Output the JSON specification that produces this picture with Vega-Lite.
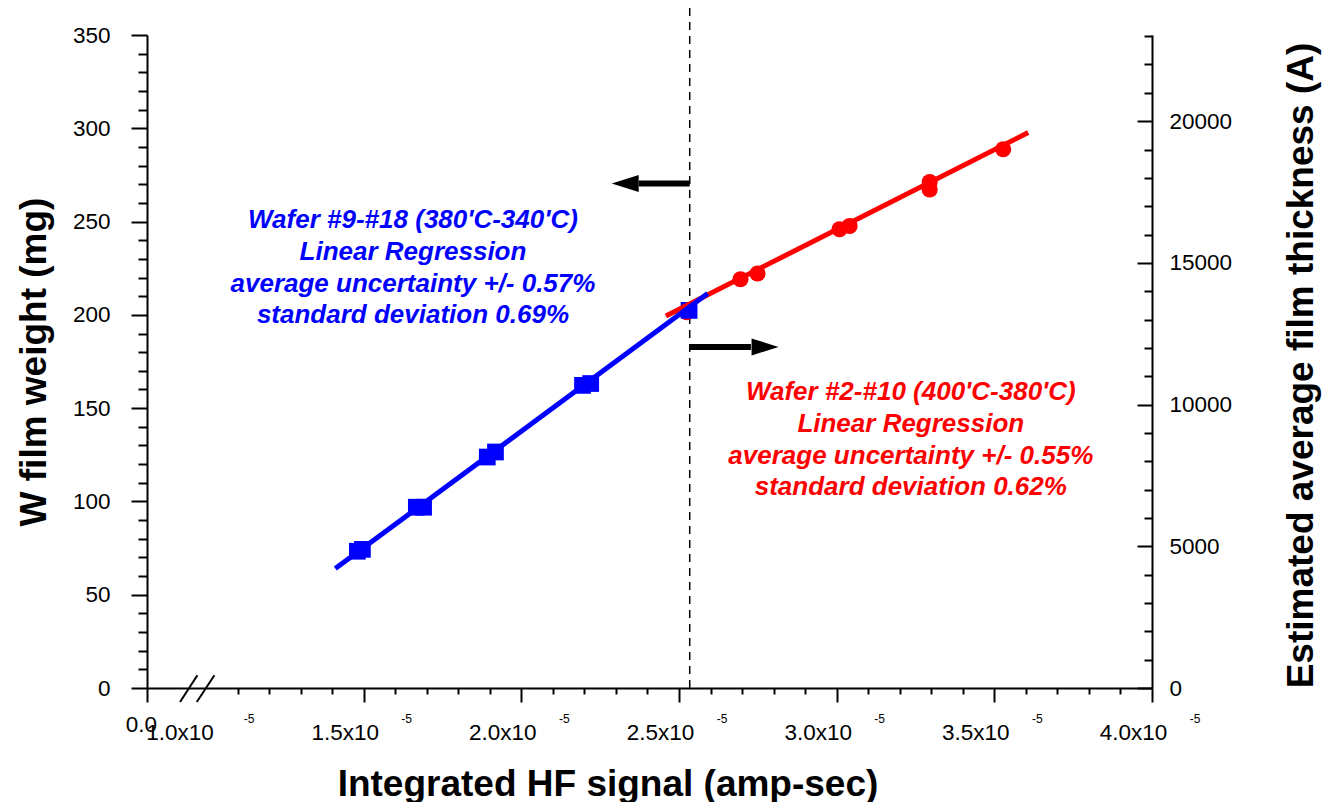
{
  "$schema": "https://vega.github.io/schema/vega-lite/v6.json",
  "width": 1005,
  "height": 653,
  "autosize": {"type": "none"},
  "padding": {"left": 147, "top": 35, "right": 181, "bottom": 114},
  "background": "#ffffff",
  "view": {"stroke": null},
  "config": {
    "axis": {
      "grid": false,
      "labelFont": "Liberation Sans",
      "labelFontSize": 22.5,
      "labelColor": "#000000",
      "labelFlush": false,
      "labelOverlap": false,
      "labelBound": false,
      "titleFont": "Liberation Sans",
      "titleFontSize": 37,
      "titleFontWeight": "bold",
      "titleColor": "#000000",
      "domainColor": "#000000",
      "domainWidth": 2,
      "tickColor": "#000000",
      "tickWidth": 2
    }
  },
  "datasets": {
    "divider": [{"signal": 2.534e-5, "weight_mg": 0, "weight_top": 366}],
    "arrow_shafts": [
      {"signal": 2.534e-5, "signal_end": 2.3726e-5, "weight_mg": 270.4},
      {"signal": 2.534e-5, "signal_end": 2.728e-5, "weight_mg": 182.8}
    ],
    "arrow_heads": [
      {"signal": 2.3294e-5, "weight_mg": 270.4, "direction": "left"},
      {"signal": 2.7729e-5, "weight_mg": 182.8, "direction": "right"}
    ],
    "wafers_2_10": [
      {"signal": 2.525e-5, "thickness_A": 13257},
      {"signal": 2.695e-5, "thickness_A": 14421},
      {"signal": 2.749e-5, "thickness_A": 14623},
      {"signal": 3.009e-5, "thickness_A": 16186},
      {"signal": 3.041e-5, "thickness_A": 16302},
      {"signal": 3.295e-5, "thickness_A": 17855},
      {"signal": 3.295e-5, "thickness_A": 17587},
      {"signal": 3.528e-5, "thickness_A": 19009}
    ],
    "wafers_9_18": [
      {"signal": 1.480e-5, "weight_mg": 73.3},
      {"signal": 1.496e-5, "weight_mg": 74.3},
      {"signal": 1.667e-5, "weight_mg": 96.9},
      {"signal": 1.690e-5, "weight_mg": 96.9},
      {"signal": 1.892e-5, "weight_mg": 123.8},
      {"signal": 1.918e-5, "weight_mg": 126.5},
      {"signal": 2.194e-5, "weight_mg": 162.2},
      {"signal": 2.220e-5, "weight_mg": 163.2},
      {"signal": 2.532e-5, "weight_mg": 202.4}
    ],
    "fit_2_10": [
      {"signal": 2.4584e-5, "thickness_A": 13126},
      {"signal": 3.6074e-5, "thickness_A": 19598}
    ],
    "fit_9_18": [
      {"signal": 1.4101e-5, "weight_mg": 64.0},
      {"signal": 2.591e-5, "weight_mg": 211.4}
    ],
    "notes": [
      {"series": "wafers 9-18", "signal": 1.6563e-5, "weight_mg": 246.4, "note": "Wafer #9-#18 (380'C-340'C)\nLinear Regression\naverage uncertainty +/- 0.57%\n\u00a0standard deviation 0.69%"},
      {"series": "wafers 2-10", "signal": 3.2351e-5, "weight_mg": 154.2, "note": "Wafer #2-#10 (400'C-380'C)\nLinear Regression\naverage uncertainty +/- 0.55%\n\u00a0standard deviation 0.62%"}
    ],
    "exponents": [
      {"signal": 1.0e-5, "weight_mg": 0, "text": "-5"},
      {"signal": 1.5e-5, "weight_mg": 0, "text": "-5"},
      {"signal": 2.0e-5, "weight_mg": 0, "text": "-5"},
      {"signal": 2.5e-5, "weight_mg": 0, "text": "-5"},
      {"signal": 3.0e-5, "weight_mg": 0, "text": "-5"},
      {"signal": 3.5e-5, "weight_mg": 0, "text": "-5"},
      {"signal": 4.0e-5, "weight_mg": 0, "text": "-5"}
    ],
    "axis_break": [
      {"signal": 0.9177e-5, "signal_end": 0.9727e-5, "weight_mg": -7.5, "weight_end": 6.8},
      {"signal": 0.9708e-5, "signal_end": 1.0267e-5, "weight_mg": -7.5, "weight_end": 6.8}
    ]
  },
  "encoding": {
    "x": {
      "field": "signal",
      "type": "quantitative",
      "scale": {"domain": [0.8129e-5, 4.0e-5], "nice": false, "zero": false},
      "axis": {
        "title": "Integrated HF signal (amp-sec)",
        "titleX": 460.5,
        "titleY": 107,
        "titleAlign": "center",
        "titleBaseline": "alphabetic",
        "values": [0.8129e-5, 1.0e-5, 1.1e-5, 1.2e-5, 1.3e-5, 1.4e-5, 1.5e-5, 1.6e-5, 1.7e-5, 1.8e-5, 1.9e-5, 2.0e-5, 2.1e-5, 2.2e-5, 2.3e-5, 2.4e-5, 2.5e-5, 2.6e-5, 2.7e-5, 2.8e-5, 2.9e-5, 3.0e-5, 3.1e-5, 3.2e-5, 3.3e-5, 3.4e-5, 3.5e-5, 3.6e-5, 3.7e-5, 3.8e-5, 3.9e-5, 4.0e-5],
        "labelExpr": "datum.value < 0.9e-5 ? '0.0' : (abs(datum.value * 2e5 - round(datum.value * 2e5)) < 0.001 ? format(datum.value * 1e5, '.1f') + 'x10' : '')",
        "labelAlign": "center",
        "labelBaseline": "top",
        "tickSize": {"condition": {"test": "datum.value < 0.9e-5 || abs(datum.value * 2e5 - round(datum.value * 2e5)) < 0.001", "value": 14}, "value": 6},
        "tickOpacity": {"condition": {"test": "abs(datum.value - 1e-5) < 1e-9", "value": 0}, "value": 1},
        "labelOffset": {"condition": [{"test": "datum.value < 0.9e-5", "value": -6}, {"test": "abs(datum.value - 1e-5) < 1e-9", "value": -26.5}], "value": -19},
        "labelPadding": {"condition": {"test": "datum.value < 0.9e-5", "value": 11}, "value": 19}
      }
    }
  },
  "layer": [
    {
      "data": {"name": "divider"},
      "mark": {"type": "rule", "color": "#000000", "strokeWidth": 1.5, "strokeDash": [8, 6]},
      "encoding": {
        "y": {
          "field": "weight_mg",
          "type": "quantitative",
          "scale": {"domain": [0, 350], "nice": false},
          "axis": {
            "orient": "left",
            "title": "W film weight (mg)",
            "titleAngle": 270,
            "titleX": -102,
            "titleY": 326.5,
            "titleAlign": "center",
            "titleBaseline": "alphabetic",
            "values": [0, 10, 20, 30, 40, 50, 60, 70, 80, 90, 100, 110, 120, 130, 140, 150, 160, 170, 180, 190, 200, 210, 220, 230, 240, 250, 260, 270, 280, 290, 300, 310, 320, 330, 340, 350],
            "format": "d",
            "labelExpr": "datum.value % 50 === 0 ? datum.label : ''",
            "tickSize": {"condition": {"test": "datum.value % 50 === 0", "value": 16}, "value": 9},
            "labelPadding": 21
          }
        },
        "y2": {"field": "weight_top"}
      }
    },
    {
      "data": {"name": "arrow_shafts"},
      "mark": {"type": "rule", "color": "#000000", "strokeWidth": 6},
      "encoding": {
        "x2": {"field": "signal_end"},
        "y": {"field": "weight_mg", "type": "quantitative", "scale": {"domain": [0, 350], "nice": false}, "axis": null}
      }
    },
    {
      "data": {"name": "arrow_heads"},
      "mark": {"type": "point", "filled": true, "opacity": 1, "size": 729, "color": "#000000"},
      "encoding": {
        "y": {"field": "weight_mg", "type": "quantitative", "scale": {"domain": [0, 350], "nice": false}, "axis": null},
        "shape": {
          "field": "direction",
          "type": "nominal",
          "scale": {"domain": ["left", "right"], "range": ["M-1,0L1,-0.63L1,0.63Z", "M1,0L-1,-0.63L-1,0.63Z"]},
          "legend": null
        }
      }
    },
    {
      "data": {"name": "wafers_2_10"},
      "mark": {"type": "circle", "color": "#ff0000", "opacity": 1, "size": 260},
      "encoding": {
        "y": {
          "field": "thickness_A",
          "type": "quantitative",
          "scale": {"domain": [0, 23040], "nice": false},
          "axis": {
            "orient": "right",
            "title": "Estimated average film thickness (A)",
            "titleAngle": 270,
            "titleX": 160,
            "titleY": 330,
            "titleAlign": "center",
            "titleBaseline": "alphabetic",
            "values": [0, 1000, 2000, 3000, 4000, 5000, 6000, 7000, 8000, 9000, 10000, 11000, 12000, 13000, 14000, 15000, 16000, 17000, 18000, 19000, 20000, 21000, 22000, 23000],
            "format": "d",
            "labelExpr": "datum.value % 5000 === 0 ? datum.label : ''",
            "tickSize": {"condition": {"test": "datum.value % 5000 === 0", "value": -15}, "value": -8},
            "labelPadding": 32,
            "labelAlign": "left"
          }
        }
      }
    },
    {
      "data": {"name": "wafers_9_18"},
      "mark": {"type": "square", "color": "#0000ff", "opacity": 1, "size": 280},
      "encoding": {
        "y": {"field": "weight_mg", "type": "quantitative", "scale": {"domain": [0, 350], "nice": false}, "axis": null}
      }
    },
    {
      "data": {"name": "fit_2_10"},
      "mark": {"type": "line", "color": "#ff0000", "strokeWidth": 5},
      "encoding": {
        "y": {"field": "thickness_A", "type": "quantitative", "scale": {"domain": [0, 23040], "nice": false}, "axis": null}
      }
    },
    {
      "data": {"name": "fit_9_18"},
      "mark": {"type": "line", "color": "#0000ff", "strokeWidth": 5},
      "encoding": {
        "y": {"field": "weight_mg", "type": "quantitative", "scale": {"domain": [0, 350], "nice": false}, "axis": null}
      }
    },
    {
      "data": {"name": "notes"},
      "mark": {"type": "text", "align": "center", "baseline": "alphabetic", "font": "Liberation Sans", "fontSize": 26, "fontStyle": "italic", "fontWeight": "bold", "lineBreak": "\n", "lineHeight": 31.7},
      "encoding": {
        "y": {"field": "weight_mg", "type": "quantitative", "scale": {"domain": [0, 350], "nice": false}, "axis": null},
        "text": {"field": "note", "type": "nominal"},
        "color": {"field": "series", "type": "nominal", "scale": {"domain": ["wafers 9-18", "wafers 2-10"], "range": ["#0000ff", "#ff0000"]}, "legend": null}
      }
    },
    {
      "data": {"name": "exponents"},
      "mark": {"type": "text", "align": "center", "baseline": "alphabetic", "font": "Liberation Sans", "fontSize": 12, "color": "#000000", "dx": 43, "dy": 35},
      "encoding": {
        "y": {"field": "weight_mg", "type": "quantitative", "scale": {"domain": [0, 350], "nice": false}, "axis": null},
        "text": {"field": "text", "type": "nominal"}
      }
    },
    {
      "data": {"name": "axis_break"},
      "mark": {"type": "rule", "color": "#000000", "strokeWidth": 2},
      "encoding": {
        "x2": {"field": "signal_end"},
        "y": {"field": "weight_mg", "type": "quantitative", "scale": {"domain": [0, 350], "nice": false}, "axis": null},
        "y2": {"field": "weight_end"}
      }
    }
  ],
  "resolve": {"scale": {"y": "independent"}}
}
